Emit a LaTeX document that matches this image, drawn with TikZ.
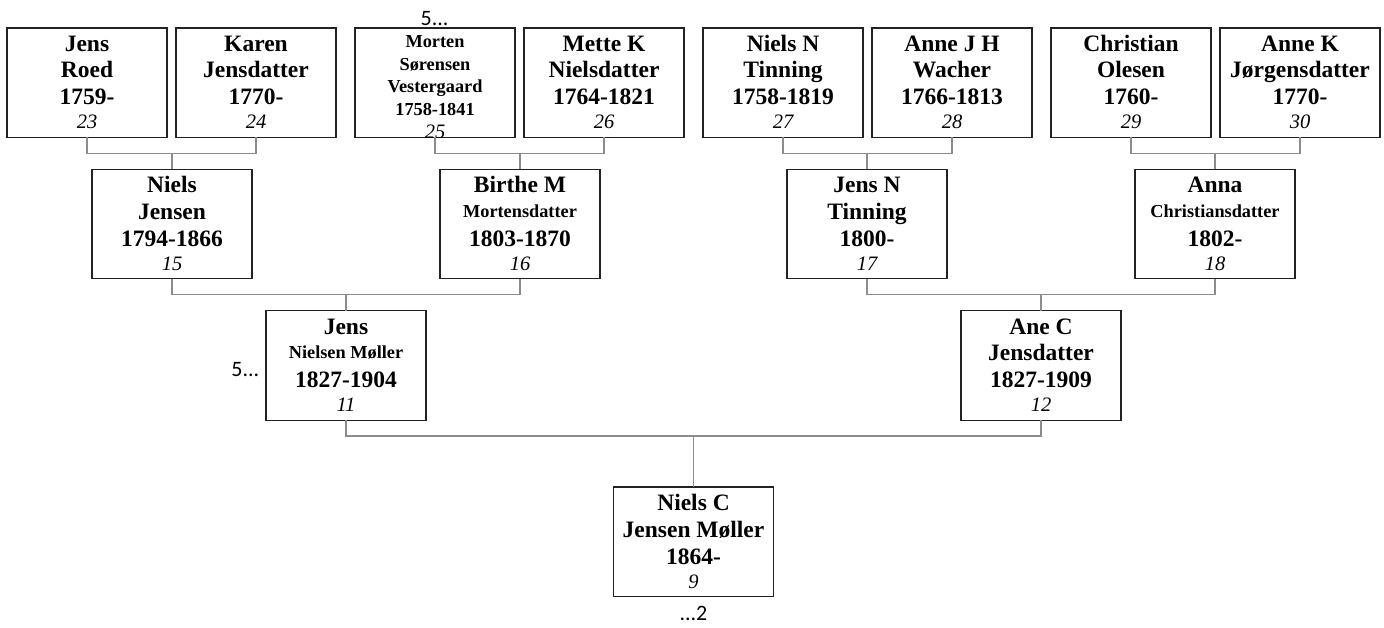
\documentclass[tikz,border=0pt]{standalone}
\usepackage{fontspec}
\setmainfont{Liberation Serif}
\newfontfamily\carlito{Carlito}
\definecolor{boxc}{HTML}{222222}
\definecolor{connc}{HTML}{8C8C8C}
\tikzset{
  pbox/.style={draw=boxc, line width=1.3pt, minimum width=160pt, minimum height=109.5pt, inner sep=0pt, outer sep=0pt},
  big/.style={font=\bfseries\fontsize{23.5}{28}\selectfont, inner sep=0pt, anchor=base},
  small/.style={font=\bfseries\fontsize{18.3}{22}\selectfont, inner sep=0pt, anchor=base},
  num/.style={font=\itshape\fontsize{20.5}{24}\selectfont, inner sep=0pt, anchor=base},
  conn/.style={draw=connc, line width=1.5pt},
  lbl/.style={font=\carlito\fontsize{22}{26}\selectfont, inner sep=0pt, anchor=base}
}
% id, centre x, top y, line1, line2, line3, number
\newcommand\stdbox[7]{%
  \node[pbox] (#1) at (#2,#3+54.75) {};
  \node[big] (#1a) at ([yshift=-23.5pt]#1.north) {#4};
  \node[big] (#1b) at ([yshift=-50pt]#1.north) {#5};
  \node[big] (#1c) at ([yshift=-77pt]#1.north) {#6};
  \node[num] (#1d) at ([yshift=-101pt]#1.north) {#7};
}
\newcommand\smlbox[7]{%
  \node[pbox] (#1) at (#2,#3+54.75) {};
  \node[big] (#1a) at ([yshift=-23.5pt]#1.north) {#4};
  \node[small] (#1b) at ([yshift=-48pt]#1.north) {#5};
  \node[big] (#1c) at ([yshift=-77pt]#1.north) {#6};
  \node[num] (#1d) at ([yshift=-101pt]#1.north) {#7};
}
\begin{document}
\begin{tikzpicture}[x=1pt,y=-1pt]
\useasboundingbox (0,0) rectangle (1384,628);

% generation 1 (top row)
\stdbox{p23}{87}{28}{Jens}{Roed}{1759-}{23}
\stdbox{p24}{256}{28}{Karen}{Jensdatter}{1770-}{24}
\node[pbox] (p25) at (435,28+54.75) {};
\node[small] (p25a) at ([yshift=-20pt]p25.north) {Morten};
\node[small] (p25b) at ([yshift=-42.5pt]p25.north) {Sørensen};
\node[small] (p25c) at ([yshift=-65pt]p25.north) {Vestergaard};
\node[small] (p25e) at ([yshift=-87.5pt]p25.north) {1758-1841};
\begin{scope}
  \clip (p25.south west) rectangle (p25.north east);
  \node[num] (p25d) at ([yshift=-111pt]p25.north) {25};
\end{scope}
\stdbox{p26}{604}{28}{Mette K}{Nielsdatter}{1764-1821}{26}
\stdbox{p27}{783}{28}{Niels N}{Tinning}{1758-1819}{27}
\stdbox{p28}{952}{28}{Anne J H}{Wacher}{1766-1813}{28}
\stdbox{p29}{1131}{28}{Christian}{Olesen}{1760-}{29}
\stdbox{p30}{1300}{28}{Anne K}{Jørgensdatter}{1770-}{30}

% generation 2
\stdbox{p15}{172}{169.3}{Niels}{Jensen}{1794-1866}{15}
\smlbox{p16}{520}{169.3}{Birthe M}{Mortensdatter}{1803-1870}{16}
\stdbox{p17}{867}{169.3}{Jens N}{Tinning}{1800-}{17}
\smlbox{p18}{1215}{169.3}{Anna}{Christiansdatter}{1802-}{18}

% generation 3
\smlbox{p11}{346}{310.7}{Jens}{Nielsen Møller}{1827-1904}{11}
\stdbox{p12}{1041}{310.7}{Ane C}{Jensdatter}{1827-1909}{12}

% generation 4
\stdbox{p9}{693.5}{487}{Niels C}{Jensen Møller}{1864-}{9}

% connectors
\coordinate (j15) at (p15.north |- 0,153.3);
\coordinate (j16) at (p16.north |- 0,153.3);
\coordinate (j17) at (p17.north |- 0,153.3);
\coordinate (j18) at (p18.north |- 0,153.3);
\coordinate (j11) at (p11.north |- 0,294.3);
\coordinate (j12) at (p12.north |- 0,294.3);
\coordinate (j9) at (p9.north |- 0,436);

\draw[conn] (p23.south) |- (j15) -| (p24.south);
\draw[conn] (j15) -- (p15.north);
\draw[conn] (p25.south) |- (j16) -| (p26.south);
\draw[conn] (j16) -- (p16.north);
\draw[conn] (p27.south) |- (j17) -| (p28.south);
\draw[conn] (j17) -- (p17.north);
\draw[conn] (p29.south) |- (j18) -| (p30.south);
\draw[conn] (j18) -- (p18.north);
\draw[conn] (p15.south) |- (j11) -| (p16.south);
\draw[conn] (j11) -- (p11.north);
\draw[conn] (p17.south) |- (j12) -| (p18.south);
\draw[conn] (j12) -- (p12.north);
\draw[conn] (p11.south) |- (j9) -| (p12.south);
\draw[conn] (j9) -- (p9.north);

% continuation labels
\node[lbl] (c25) at (434.5,25.5) {5...};
\node[lbl, anchor=base east] (c11) at (259.5,376.7) {5...};
\node[lbl] (c9) at (693.5,620) {...2};
\end{tikzpicture}
\end{document}
